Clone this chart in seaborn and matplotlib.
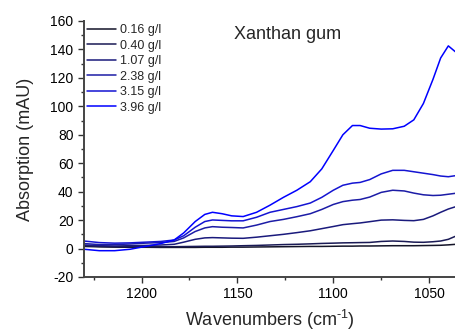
import numpy as np
import pandas as pd
import matplotlib
matplotlib.use("Agg")
import matplotlib.pyplot as plt
from matplotlib.ticker import MultipleLocator
import seaborn as sns

wavenumbers = [1230, 1222, 1214, 1206, 1198, 1190, 1183, 1178, 1172, 1167, 1163, 1158,
               1153, 1147, 1140, 1133, 1126, 1119, 1112, 1106, 1100, 1095, 1090, 1086,
               1081, 1075, 1069, 1063, 1058, 1053, 1048, 1044, 1040, 1036]

labels = ["0.16 g/l", "0.40 g/l", "1.07 g/l", "2.38 g/l", "3.15 g/l", "3.96 g/l"]

c016 = [1.5, 1.2, 1.0, 0.9, 0.9, 0.8, 0.8, 0.8, 0.8, 0.9, 0.9, 0.9, 1.0, 1.0, 1.1, 1.2, 1.3,
        1.4, 1.5, 1.5, 1.6, 1.7, 1.7, 1.8, 1.8, 1.9, 2.0, 2.0, 2.0, 2.1, 2.2, 2.3, 2.6, 3.0]
c040 = [2.0, 1.5, 1.3, 1.3, 1.3, 1.3, 1.3, 1.4, 1.5, 1.6, 1.6, 1.7, 1.8, 2.0, 2.2, 2.5, 2.8,
        3.0, 3.3, 3.6, 3.8, 4.0, 4.1, 4.2, 4.3, 5.0, 5.3, 5.0, 4.5, 4.4, 4.8, 5.3, 6.5, 8.8]
c107 = [2.5, 2.0, 1.8, 2.0, 2.2, 2.5, 3.0, 4.5, 6.5, 7.5, 7.7, 7.5, 7.3, 7.2, 8.0, 9.0, 10.0,
        11.2, 12.5, 14.0, 15.5, 16.8, 17.5, 18.0, 18.9, 20.0, 20.2, 19.8, 19.6, 20.5, 23.0,
        25.5, 27.8, 29.5]
c238 = [3.5, 2.8, 2.8, 3.2, 3.8, 4.2, 5.0, 7.5, 12.0, 14.5, 15.4, 15.0, 14.8, 14.5, 16.5,
        19.0, 20.5, 22.4, 24.5, 27.5, 31.0, 33.0, 34.0, 34.5, 36.2, 39.5, 41.0, 40.5, 39.0,
        37.8, 37.3, 37.5, 38.2, 38.9]
c315 = [5.3, 4.2, 3.8, 4.0, 4.5, 5.0, 6.0, 9.0, 15.0, 19.0, 20.1, 19.8, 19.5, 19.5, 22.0,
        25.5, 27.5, 29.5, 32.0, 36.0, 41.0, 44.5, 46.0, 46.5, 48.5, 52.5, 55.0, 55.0, 54.0,
        53.0, 52.0, 51.0, 50.5, 51.3]
c396 = [-0.5, -1.5, -1.5, -0.5, 1.5, 3.5, 6.0, 11.0, 19.0, 24.0, 25.5, 24.5, 23.0, 22.5,
        25.5, 30.5, 36.0, 41.0, 47.0, 56.0, 69.0, 80.0, 86.5, 86.5, 84.6, 84.0, 84.2, 86.0,
        90.5, 102.0, 119.0, 134.0, 142.5, 138.0]

series = [c016, c040, c107, c238, c315, c396]
colors = ["#141428", "#1a1a55", "#1a1a7c", "#1c1ca6", "#1414d2", "#0000ff"]

frames = []
for lab, vals in zip(labels, series):
    frames.append(pd.DataFrame({"w": wavenumbers, "a": vals, "conc": lab}))
df = pd.concat(frames, ignore_index=True)

sns.set_style("ticks")
plt.rcParams["font.family"] = ["Liberation Sans", "DejaVu Sans"]
plt.rcParams["mathtext.fontset"] = "custom"
plt.rcParams["mathtext.rm"] = "Liberation Sans"
plt.rcParams["mathtext.it"] = "Liberation Sans:italic"
plt.rcParams["axes.unicode_minus"] = False

fig = plt.figure(figsize=(4.56, 3.33), dpi=100)
ax = fig.add_axes([84 / 456, 1 - 277 / 333, 1 - 84 / 456, (277 - 21) / 333])

sns.lineplot(data=df, x="w", y="a", hue="conc", palette=colors, hue_order=labels,
             linewidth=1.1, ax=ax, sort=False, estimator=None)

ax.set_xlim(1230, 1036)
ax.set_ylim(-20, 160)
ax.xaxis.set_major_locator(MultipleLocator(50))
ax.xaxis.set_minor_locator(MultipleLocator(25))
ax.yaxis.set_major_locator(MultipleLocator(20))
ax.yaxis.set_minor_locator(MultipleLocator(10))
ax.tick_params(axis="both", which="major", direction="out", length=4, width=1.0,
               labelsize=10, colors="#333333", labelcolor="black")
ax.tick_params(axis="both", which="minor", direction="out", length=2.5, width=1.0,
               colors="#333333")
for s in ["top", "right"]:
    ax.spines[s].set_visible(False)
for s in ["left", "bottom"]:
    ax.spines[s].set_linewidth(1.4)
    ax.spines[s].set_color("#444444")

ax.set_xlabel("Wavenumbers (cm$^{\\text{-1}}$)", fontsize=13, labelpad=5)
ax.set_ylabel("Absorption (mAU)", fontsize=13, labelpad=12)

ax.text(0.403, 0.93, "Xanthan gum", transform=ax.transAxes, fontsize=13,
        ha="left", va="baseline")

leg = ax.legend(loc="upper left", frameon=False, fontsize=9, handlelength=2.3,
                handletextpad=0.3, labelspacing=0.28, borderaxespad=0.05, borderpad=0.2)
for line in leg.get_lines():
    line.set_linewidth(1.1)

fig.savefig("out.png", dpi=100)
